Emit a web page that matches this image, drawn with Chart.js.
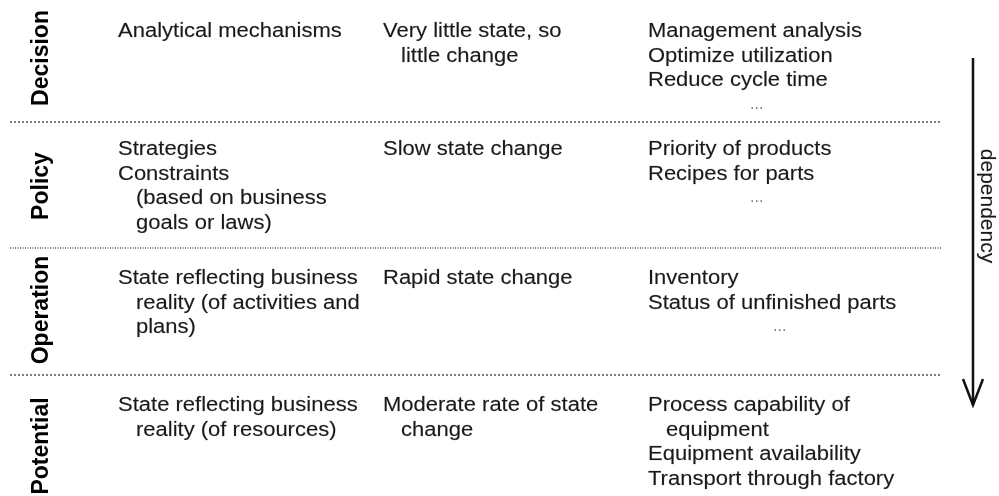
<!DOCTYPE html>
<html>
<head>
<meta charset="utf-8">
<script src="https://cdn.jsdelivr.net/npm/chart.js@4.4.1/dist/chart.umd.min.js"></script>
<style>
  html, body { margin: 0; padding: 0; background: #fff; }
  #wrap { width: 999px; height: 496px; position: relative; }
</style>
</head>
<body>
<div id="wrap"><canvas id="layerChart"></canvas></div>
<script>
// Layers (top to bottom) and what goes in each column
const rowLabels = ['Decision', 'Policy', 'Operation', 'Potential'];
const colMechanism = [
    ['Analytical mechanisms'],
    ['Strategies', 'Constraints', ' (based on business', ' goals or laws)'],
    ['State reflecting business', ' reality (of activities and', ' plans)'],
    ['State reflecting business', ' reality (of resources)']
];
const colChange = [
    ['Very little state, so', ' little change'],
    ['Slow state change'],
    ['Rapid state change'],
    ['Moderate rate of state', ' change']
];
const colExamples = [
    ['Management analysis', 'Optimize utilization', 'Reduce cycle time', '...'],
    ['Priority of products', 'Recipes for parts', '...'],
    ['Inventory', 'Status of unfinished parts', '...'],
    ['Process capability of', ' equipment', 'Equipment availability', 'Transport through factory']
];
const arrowLabel = 'dependency';

// layout (in the chart's own 999 x 496 value space)
const rowDividers = [122, 248, 375];
const rowFirstLine = [37, 155, 284, 411];
const rowLabelMid = [58, 186, 310, 446];
const colX = [118, 383, 648];
const dotsX = [757, 757, 780, 757];
const lineGap = 24.5;

const dividerSets = rowDividers.map(function(y, i) {
    return {
        data: [{x: 10, y: y}, {x: 942, y: y}],
        showLine: true,
        borderColor: '#555',
        borderWidth: 1.5,
        borderDash: i === 1 ? [1, 1.5] : [2, 2],
        pointRadius: 0
    };
});

const arrowSets = [
    {
        data: [{x: 973, y: 58}, {x: 973, y: 405}],
        showLine: true, borderColor: '#111', borderWidth: 2.5, pointRadius: 0
    },
    {
        data: [{x: 963, y: 379}, {x: 973, y: 405}, {x: 983, y: 379}],
        showLine: true, borderColor: '#111', borderWidth: 2.5, pointRadius: 0
    }
];

const textPlugin = {
    id: 'layerText',
    afterDatasetsDraw: function(chart) {
        const ctx = chart.ctx;
        const sx = chart.scales.x, sy = chart.scales.y;
        ctx.save();
        ctx.fillStyle = '#1a1a1a';
        ctx.strokeStyle = 'rgba(26,26,26,0.35)';
        ctx.lineWidth = 0.4;
        ctx.textBaseline = 'alphabetic';
        ctx.textAlign = 'left';
        ctx.font = '20px "Liberation Sans", Arial, sans-serif';

        [colMechanism, colChange, colExamples].forEach(function(col, c) {
            col.forEach(function(lines, r) {
                lines.forEach(function(line, k) {
                    const y = sy.getPixelForValue(rowFirstLine[r] + k * lineGap);
                    if (line === '...') {
                        ctx.save();
                        ctx.fillStyle = '#777';
                        ctx.font = '16px "Liberation Sans", Arial, sans-serif';
                        ctx.fillText('...', sx.getPixelForValue(dotsX[r]) - 7, y - 2);
                        ctx.restore();
                        return;
                    }
                    const indent = line.startsWith(' ') ? 18 : 0;
                    const x = sx.getPixelForValue(colX[c] + indent);
                    ctx.save();
                    ctx.translate(x, y);
                    ctx.scale(1.1, 1);
                    ctx.fillText(line.trim(), 0, 0);
                    ctx.strokeText(line.trim(), 0, 0);
                    ctx.restore();
                });
            });
        });

        // vertical layer names
        ctx.font = 'bold 23px "Liberation Sans", Arial, sans-serif';
        ctx.textAlign = 'center';
        ctx.textBaseline = 'middle';
        ctx.fillStyle = '#000';
        rowLabels.forEach(function(label, r) {
            ctx.save();
            ctx.translate(sx.getPixelForValue(42), sy.getPixelForValue(rowLabelMid[r]));
            ctx.rotate(-Math.PI / 2);
            ctx.fillText(label, 0, 0);
            ctx.restore();
        });

        // arrow caption
        ctx.font = '21px "Liberation Sans", Arial, sans-serif';
        ctx.fillStyle = '#1a1a1a';
        ctx.save();
        ctx.translate(sx.getPixelForValue(987), sy.getPixelForValue(206));
        ctx.rotate(Math.PI / 2);
        ctx.fillText(arrowLabel, 0, 0);
        ctx.strokeText(arrowLabel, 0, 0);
        ctx.restore();
        ctx.restore();
    }
};

const ctx = document.getElementById('layerChart').getContext('2d');
const layerChart = new Chart(ctx, {
    type: 'scatter',
    data: { datasets: dividerSets.concat(arrowSets) },
    options: {
        responsive: true,
        maintainAspectRatio: false,
        animation: false,
        layout: { padding: 0 },
        scales: {
            x: { type: 'linear', min: 0, max: 999, display: false },
            y: { type: 'linear', min: 0, max: 496, reverse: true, display: false }
        },
        plugins: {
            legend: { display: false },
            tooltip: { enabled: false }
        }
    },
    plugins: [textPlugin]
});
</script>
</body>
</html>
